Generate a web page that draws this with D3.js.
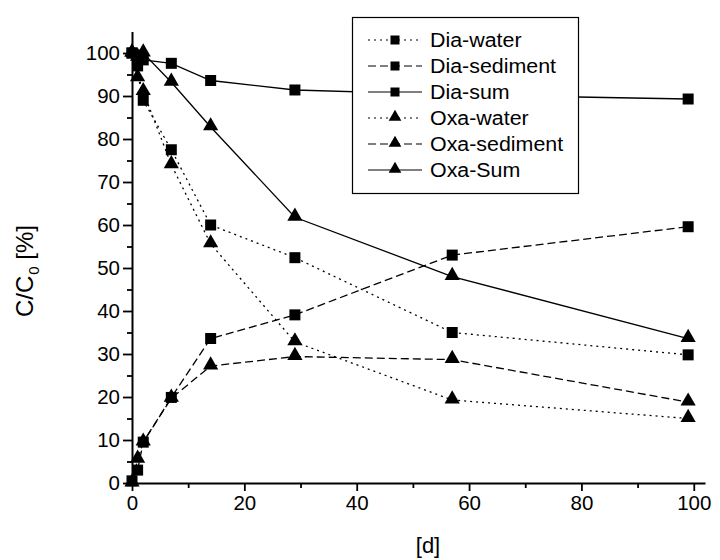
<!DOCTYPE html>
<html>
<head>
<meta charset="utf-8">
<script src="https://cdn.jsdelivr.net/npm/d3@7"></script>
<style>
  body { margin: 0; background: #fff; }
  text { font-family: "Liberation Sans", Arial, sans-serif; fill: #000; }
</style>
</head>
<body>
<svg id="chart" width="720" height="560"></svg>
<script>
// sampling days
const days = [0, 1, 2, 7, 14, 29, 57, 99];

// series values, C/C0 in %
const diaWater    = [100, 97, 89, 77.5, 60, 52.4, 35, 29.8];
const diaSediment = [0.5, 3, 9.5, 19.9, 33.6, 39.1, 53, 59.6];
const diaSum      = [100, 99.5, 98.4, 97.6, 93.6, 91.4, 90.3, 89.3];
const oxaWater    = [100, 94.2, 91, 74, 55.6, 32.8, 19.3, 15];
const oxaSediment = [0, 5.5, 9.5, 19.7, 27.2, 29.4, 28.7, 18.8];
const oxaSum      = [100, 99, 100, 93.2, 82.8, 61.8, 48, 33.6];

const seriesNames = ["Dia-water", "Dia-sediment", "Dia-sum", "Oxa-water", "Oxa-sediment", "Oxa-Sum"];
const seriesValues = [diaWater, diaSediment, diaSum, oxaWater, oxaSediment, oxaSum];

const xTicks = [0, 20, 40, 60, 80, 100];
const yTicks = [0, 10, 20, 30, 40, 50, 60, 70, 80, 90, 100];

// styling per series
const dashes = ["2,4", "8,4", null, "2,4", "8,4", null];
const shapes = ["square", "square", "square", "triangle", "triangle", "triangle"];

const svg = d3.select("#chart");

const x = d3.scaleLinear().domain([0, 102]).range([132, 705]);
const y = d3.scaleLinear().domain([0, 105]).range([483, 31.5]);

const squareSym = d3.symbol().type(d3.symbolSquare).size(121);
const triSym = d3.symbol().type(d3.symbolTriangle).size(100);
const squareSmall = d3.symbol().type(d3.symbolSquare).size(81);
const triSmall = d3.symbol().type(d3.symbolTriangle).size(70);
function symPath(s) { return s === "square" ? squareSym() : triSym(); }

// axes
svg.append("g")
    .attr("transform", "translate(0," + y(0) + ")")
    .call(d3.axisBottom(x).tickValues(xTicks).tickSize(8).tickSizeOuter(0).tickPadding(4));
svg.append("g")
    .attr("transform", "translate(0," + y(0) + ")")
    .call(d3.axisBottom(x).tickValues([10, 30, 50, 70, 90]).tickSize(5).tickFormat(""))
    .select(".domain").remove();

svg.append("g")
    .attr("transform", "translate(" + x(0) + ",0)")
    .call(d3.axisLeft(y).tickValues(yTicks).tickSize(9).tickSizeOuter(0).tickPadding(3));
svg.append("g")
    .attr("transform", "translate(" + x(0) + ",0)")
    .call(d3.axisLeft(y).tickValues(d3.range(5, 105, 10)).tickSize(5).tickFormat(""))
    .select(".domain").remove();

svg.selectAll(".domain").attr("stroke", "#000").attr("stroke-width", 2);
svg.selectAll(".tick line").attr("stroke", "#000").attr("stroke-width", 1.8);
svg.selectAll(".tick text").attr("font-size", 20.5).attr("font-family", "Liberation Sans, Arial, sans-serif");

// axis titles
svg.append("text")
    .attr("x", 428).attr("y", 553)
    .attr("text-anchor", "middle")
    .attr("font-size", 22)
    .text("[d]");

const yt = svg.append("text")
    .attr("transform", "translate(33,271) rotate(-90)")
    .attr("text-anchor", "middle")
    .attr("font-size", 24);
yt.append("tspan").text("C/C");
yt.append("tspan").attr("font-size", 15).attr("dy", 6).attr("dx", 1).text("0");
yt.append("tspan").attr("dy", -6).text(" [%]");

// lines
const line = d3.line()
    .x(function(d) { return x(d[0]); })
    .y(function(d) { return y(d[1]); });

seriesValues.forEach(function(vals, i) {
    const pts = days.map(function(d, j) { return [d, vals[j]]; });
    svg.append("path")
        .datum(pts)
        .attr("d", line)
        .attr("fill", "none")
        .attr("stroke", "#000")
        .attr("stroke-width", 1.3)
        .attr("stroke-dasharray", dashes[i]);
});

// markers
seriesValues.forEach(function(vals, i) {
    svg.append("g").selectAll("path")
        .data(days.map(function(d, j) { return [d, vals[j]]; }))
        .enter()
        .append("path")
        .attr("d", symPath(shapes[i]))
        .attr("transform", function(d) {
            const dy = shapes[i] === "triangle" ? -1 : 0;
            return "translate(" + x(d[0]) + "," + (y(d[1]) + dy) + ")";
        })
        .attr("fill", "#000");
});

// legend
const legend = svg.append("g");
legend.append("rect")
    .attr("x", 352.5).attr("y", 17.5)
    .attr("width", 226).attr("height", 176)
    .attr("fill", "#fff")
    .attr("stroke", "#000")
    .attr("stroke-width", 1.2);

seriesNames.forEach(function(name, i) {
    const ly = 40 + i * 26;
    legend.append("line")
        .attr("x1", 368).attr("x2", 422)
        .attr("y1", ly).attr("y2", ly)
        .attr("stroke", "#000")
        .attr("stroke-width", 1.2)
        .attr("stroke-dasharray", dashes[i]);
    legend.append("path")
        .attr("d", shapes[i] === "square" ? squareSmall() : triSmall())
        .attr("transform", "translate(395," + (ly - (shapes[i] === "triangle" ? 1 : 0)) + ")")
        .attr("fill", "#000");
    legend.append("text")
        .attr("transform", "translate(430," + (ly + 7) + ") scale(1.07,1)")
        .attr("font-size", 20)
        .text(name);
});
</script>
</body>
</html>
